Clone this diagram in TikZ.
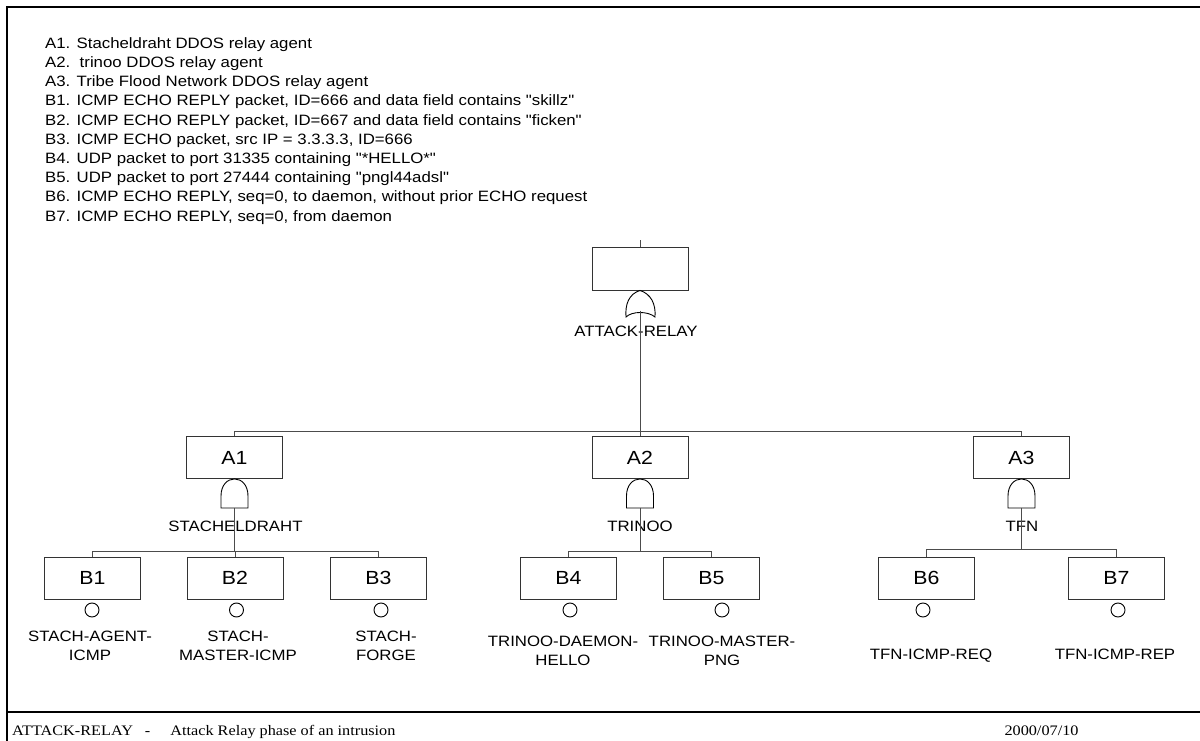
\documentclass[tikz,border=0pt]{standalone}
\usepackage{fontspec}
\setmainfont{Liberation Sans}[FakeStretch=1.12, Ligatures=TeXOff]
\newfontfamily\footfont{Liberation Serif}[FakeStretch=1.12]
\usetikzlibrary{calc}
\begin{document}
\begin{tikzpicture}[x=1pt,y=-1pt,
  frame/.style={line width=2.2pt, line cap=rect},
  wire/.style={draw=black!70, line width=0.9pt},
  evbox/.style={draw=black!80, line width=0.9pt, minimum width=96pt, minimum height=42pt,
                inner sep=0pt, font=\fontsize{19}{22}\selectfont},
  basic/.style={circle, draw=black, line width=0.9pt, minimum size=14pt, inner sep=0pt},
  gate/.style={draw=black, line width=0.9pt},
  gatetxt/.style={anchor=base, inner sep=0pt, font=\fontsize{15}{18.5}\selectfont},
  leaftxt/.style={anchor=base, align=center, inner sep=0pt, font=\fontsize{15}{18.5}\selectfont},
  foot/.style={anchor=base west, inner sep=0pt, font=\footfont\fontsize{14.5}{17}\selectfont}
]
\useasboundingbox (0,0) rectangle (1200,741);

% outer frame
\draw[frame] (1200,7) -- (7,7) -- (7,741);
\draw[frame] (7,712) -- (1200,712);

% legend (base anchor sits on the last line)
\node[anchor=base west, align=left, inner sep=0pt, font=\fontsize{15}{19.2}\selectfont] (legend) at (45,221) {%
A1. Stacheldraht DDOS relay agent\\
A2.\ \ trinoo DDOS relay agent\\
A3. Tribe Flood Network DDOS relay agent\\
B1. ICMP ECHO REPLY packet, ID=666 and data field contains "skillz"\\
B2. ICMP ECHO REPLY packet, ID=667 and data field contains "ficken"\\
B3. ICMP ECHO packet, src IP = 3.3.3.3, ID=666\\
B4. UDP packet to port 31335 containing "*HELLO*"\\
B5. UDP packet to port 27444 containing "pngl44adsl"\\
B6. ICMP ECHO REPLY, seq=0, to daemon, without prior ECHO request\\
B7. ICMP ECHO REPLY, seq=0, from daemon};

% top event
\node[evbox, minimum height=43pt] (top) at (640,268.5) {};
\coordinate (topin) at (640,240);
\draw[wire] (topin) -- (top.north);

% OR gate under the top event
\draw[gate] (top.south) .. controls (629,294) and (625,304) .. (626,317)
  .. controls (632,311) and (648,311) .. (655,317)
  .. controls (656,304) and (651,294) .. (top.south) -- cycle;
\coordinate (orout) at (640,310.5);
\node[gatetxt] (lattack) at (636,336) {ATTACK-RELAY};

% intermediate events
\node[evbox] (A1) at (234.5,457.5) {A1};
\node[evbox] (A2) at (640,457.5) {A2};
\node[evbox] (A3) at (1021.5,457.5) {A3};
\draw[wire] (orout) -- (A2.north);
\draw[wire] (A1.north) -- ++(0,-5) -| (A3.north);

% AND gates under the intermediate events
\foreach \g in {A1,A2,A3}{
  \begin{scope}[shift={(\g.south)}]
    \draw[gate] (0,0) .. controls (7,0) and (13.5,6) .. (13.5,17) -- (13.5,29)
      -- (-13.5,29) -- (-13.5,17) .. controls (-13.5,6) and (-7,0) .. (0,0) -- cycle;
    \coordinate (\g-and) at (0,29);
  \end{scope}
}
\node[gatetxt] (lstach) at (235.5,531) {STACHELDRAHT};
\node[gatetxt] (ltrin) at (640,531) {TRINOO};
\node[gatetxt] (ltfn) at (1022,531) {TFN};

% basic events
\node[evbox] (B1) at (92.5,578) {B1};
\node[evbox] (B2) at (235,578) {B2};
\node[evbox] (B3) at (378.5,578) {B3};
\node[evbox] (B4) at (568.5,578) {B4};
\node[evbox] (B5) at (711.5,578) {B5};
\node[evbox] (B6) at (926.5,578) {B6};
\node[evbox] (B7) at (1116.5,578) {B7};

\draw[wire] (B1.north) -- ++(0,-5) -| (B3.north);
\draw[wire] (B2.north) -- ++(0,-5);
\draw[wire] (A1-and) -- ($(A1-and |- B1.north)+(0,-5)$);
\draw[wire] (B4.north) -- ++(0,-5) -| (B5.north);
\draw[wire] (A2-and) -- ($(A2-and |- B4.north)+(0,-5)$);
\draw[wire] (B6.north) -- ++(0,-7) -| (B7.north);
\draw[wire] (A3-and) -- ($(A3-and |- B6.north)+(0,-7)$);

% basic event circles
\node[basic] (e1) at (92,610) {};
\node[basic] (e2) at (236.5,610) {};
\node[basic] (e3) at (381,610) {};
\node[basic] (e4) at (570,610) {};
\node[basic] (e5) at (722,610) {};
\node[basic] (e6) at (923,610) {};
\node[basic] (e7) at (1118,610) {};

% basic event names (base anchor on the last line)
\node[leaftxt] (n1) at (90,660) {STACH-AGENT-\\ICMP};
\node[leaftxt] (n2) at (238,660) {STACH-\\MASTER-ICMP};
\node[leaftxt] (n3) at (386,660) {STACH-\\FORGE};
\node[leaftxt] (n4) at (563,665) {TRINOO-DAEMON-\\HELLO};
\node[leaftxt] (n5) at (722,665) {TRINOO-MASTER-\\PNG};
\node[leaftxt] (n6) at (931,659) {TFN-ICMP-REQ};
\node[leaftxt] (n7) at (1115,659) {TFN-ICMP-REP};

% footer
\node[foot] (ftitle) at (12,735) {ATTACK-RELAY\hspace{12pt}-\hspace{20pt}Attack Relay phase of an intrusion};
\node[foot, anchor=base] (fdate) at (1041.5,735) {2000/07/10};
\end{tikzpicture}
\end{document}
